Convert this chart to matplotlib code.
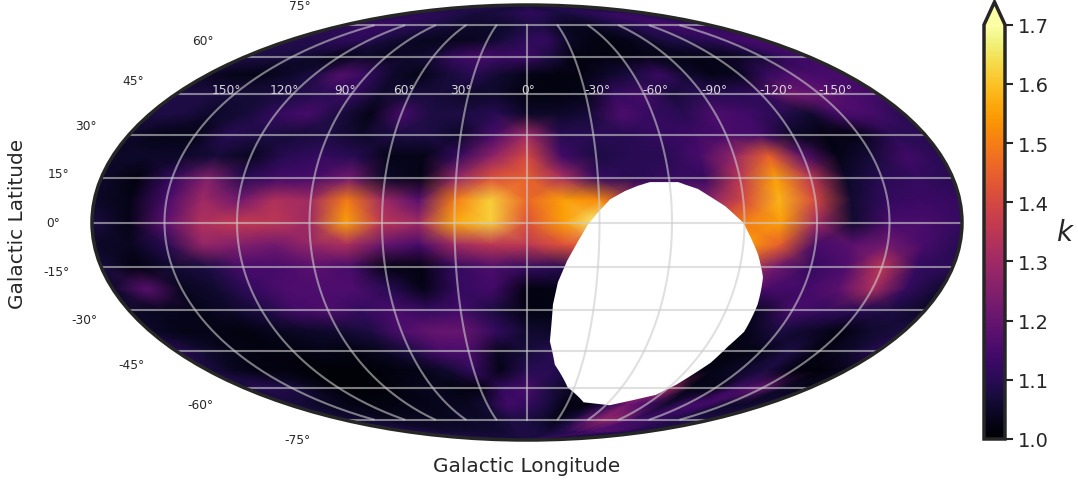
import numpy as np
import matplotlib
matplotlib.use('Agg')
import matplotlib.pyplot as plt
from matplotlib.transforms import Affine2D

plt.rcParams['text.color'] = '.15'
plt.rcParams['axes.labelcolor'] = '.15'
plt.rcParams['xtick.color'] = '.15'
plt.rcParams['ytick.color'] = '.15'

# galactic longitude of the columns, left to right on the map
lon_deg = [180, 165, 150, 135, 120, 105, 90, 75, 60, 45, 30, 15, 0,
           -15, -30, -45, -60, -75, -90, -105, -120, -135, -150, -165, -180]
lat_deg = [90, 82.5, 75, 67.5, 60, 52.5, 45, 37.5, 30, 22.5, 15, 7.5, 0, -7.5, -15,
           -22.5, -30, -37.5, -45, -52.5, -60, -67.5, -75, -82.5, -90]
lon_labels = ['150°', '120°', '90°', '60°', '30°', '0°', '-30°', '-60°', '-90°', '-120°', '-150°']
cbar_ticks = [1.0, 1.1, 1.2, 1.3, 1.4, 1.5, 1.6, 1.7]

# k, one list per latitude
k_p90 = [1.08] * 25
k_p82 = [1.09,1.09,1.10,1.10,1.10,1.09,1.08,1.07,1.07,1.08,1.09,1.10,1.11,1.11,1.10,1.08,1.08,1.09,1.10,1.11,1.12,1.12,1.11,1.10,1.09]
k_p75 = [1.10,1.12,1.13,1.12,1.10,1.10,1.08,1.07,1.06,1.05,1.05,1.06,1.08,1.08,1.05,1.04,1.04,1.06,1.08,1.10,1.12,1.14,1.14,1.12,1.10]
k_p67 = [1.10,1.09,1.10,1.11,1.10,1.07,1.05,1.04,1.04,1.04,1.05,1.08,1.11,1.12,1.05,1.03,1.02,1.03,1.05,1.08,1.09,1.10,1.12,1.14,1.15]
k_p60 = [1.08,1.08,1.07,1.05,1.03,1.05,1.04,1.05,1.07,1.13,1.15,1.13,1.13,1.08,1.02,1.02,1.02,1.03,1.03,1.03,1.03,1.04,1.07,1.12,1.14]
k_p52 = [1.05,1.03,1.03,1.05,1.08,1.17,1.12,1.05,1.03,1.07,1.10,1.06,1.03,1.02,1.02,1.05,1.08,1.13,1.06,1.03,1.04,1.12,1.16,1.15,1.15]
k_p45 = [1.08,1.08,1.07,1.07,1.08,1.10,1.12,1.06,1.07,1.07,1.05,1.05,1.02,1.02,1.03,1.12,1.14,1.07,1.10,1.10,1.12,1.22,1.20,1.16,1.14]
k_p37 = [1.08,1.08,1.05,1.07,1.12,1.15,1.08,1.03,1.15,1.08,1.08,1.10,1.05,1.05,1.07,1.16,1.12,1.10,1.16,1.14,1.10,1.06,1.15,1.15,1.10]
k_p30 = [1.05,1.03,1.03,1.10,1.08,1.07,1.08,1.05,1.08,1.08,1.05,1.15,1.30,1.10,1.10,1.10,1.12,1.13,1.15,1.14,1.05,1.02,1.03,1.10,1.10]
k_p22 = [1.05,1.05,1.05,1.07,1.04,1.10,1.12,1.10,1.03,1.03,1.12,1.27,1.40,1.14,1.08,1.10,1.10,1.15,1.28,1.45,1.18,1.03,1.07,1.14,1.10]
k_p15 = [1.05,1.02,1.12,1.25,1.10,1.14,1.15,1.22,1.05,1.03,1.28,1.42,1.45,1.32,1.12,1.10,1.12,1.12,1.35,1.55,1.35,1.05,1.10,1.12,1.10]
k_p07 = [1.05,1.03,1.15,1.30,1.22,1.33,1.30,1.50,1.30,1.18,1.50,1.62,1.46,1.55,1.52,1.30,1.25,1.25,1.40,1.58,1.40,1.06,1.12,1.13,1.12]
k_00 = [1.08,1.03,1.18,1.33,1.36,1.35,1.30,1.55,1.35,1.30,1.56,1.62,1.42,1.55,1.68,1.50,1.40,1.40,1.50,1.55,1.30,1.06,1.15,1.15,1.12]
k_m07 = [1.05,1.04,1.10,1.28,1.25,1.22,1.28,1.32,1.20,1.15,1.30,1.35,1.35,1.42,1.45,1.30,1.25,1.30,1.55,1.45,1.15,1.18,1.22,1.15,1.10]
k_m15 = [1.07,1.02,1.06,1.08,1.15,1.15,1.18,1.15,1.03,1.02,1.12,1.16,1.12,1.10,1.20,1.20,1.20,1.30,1.40,1.22,1.12,1.16,1.35,1.12,1.10]
k_m22 = [1.06,1.18,1.04,1.06,1.12,1.16,1.16,1.16,1.10,1.03,1.12,1.14,1.02,1.03,1.10,1.10,1.10,1.12,1.18,1.15,1.14,1.18,1.32,1.12,1.06]
k_m30 = [1.05,1.04,1.03,1.05,1.08,1.14,1.16,1.12,1.15,1.12,1.14,1.08,1.02,1.03,1.05,1.05,1.05,1.05,1.05,1.05,1.15,1.12,1.10,1.08,1.05]
k_m37 = [1.05,1.03,1.03,1.02,1.04,1.05,1.06,1.08,1.16,1.20,1.20,1.12,1.06,1.05,1.03,1.03,1.03,1.03,1.03,1.03,1.08,1.05,1.02,1.06,1.08]
k_m45 = [1.10,1.06,1.03,1.02,1.02,1.03,1.02,1.04,1.08,1.15,1.16,1.04,1.07,1.10,1.05,1.03,1.03,1.03,1.02,1.02,1.03,1.08,1.02,1.05,1.10]
k_m52 = [1.08,1.04,1.02,1.02,1.01,1.01,1.01,1.02,1.03,1.06,1.12,1.03,1.10,1.10,1.05,1.03,1.03,1.03,1.02,1.03,1.05,1.08,1.02,1.01,1.04]
k_m60 = [1.08,1.10,1.08,1.04,1.01,1.01,1.01,1.03,1.04,1.02,1.02,1.12,1.15,1.08,1.04,1.05,1.10,1.30,1.30,1.03,1.03,1.14,1.20,1.05,1.03]
k_m67 = [1.08,1.06,1.04,1.03,1.02,1.02,1.03,1.03,1.04,1.04,1.07,1.14,1.12,1.08,1.02,1.02,1.10,1.22,1.15,1.06,1.14,1.14,1.06,1.05,1.08]
k_m75 = [1.06,1.06,1.05,1.04,1.04,1.04,1.04,1.04,1.05,1.05,1.06,1.08,1.08,1.06,1.03,1.08,1.20,1.28,1.26,1.14,1.12,1.10,1.08,1.08,1.08]
k_m82 = [1.08,1.08,1.08,1.07,1.06,1.06,1.06,1.06,1.06,1.06,1.07,1.08,1.08,1.08,1.07,1.08,1.10,1.12,1.14,1.17,1.17,1.16,1.12,1.10,1.08]
k_m90 = [1.08] * 25

# outline of the region with no data
hole_lon = [-51.8, -63.6, -71.6, -82.2, -89.4, -96.6, -100.9, -103, -103.9, -101.2, -99.4, -92.7, -87.4, -75.9,
            -63.1, -41.6, -25.8, -15.2, -11.3, -11.6, -13.3, -16.8, -21.2, -25.2, -29.4, -34.6, -41, -46.6]
hole_lat = [13.6, 13.6, 11.3, 5.5, 0, -10.7, -18.5, -27.9, -37.7, -43.2, -49.5, -58.4, -62.9, -65.3,
            -67.7, -66.3, -59.6, -50.2, -41.3, -27.9, -20.2, -13, -6.3, -0.7, 3.4, 7.8, 10.6, 12.4]

k_map = np.array([k_p90, k_p82, k_p75, k_p67, k_p60, k_p52, k_p45, k_p37, k_p30, k_p22, k_p15, k_p07, k_00,
                  k_m07, k_m15, k_m22, k_m30, k_m37, k_m45, k_m52, k_m60, k_m67, k_m75, k_m82, k_m90])

W, H = 1078, 485
fig = plt.figure(figsize=(W / 100, H / 100), dpi=100)
ax = fig.add_axes([92 / W, (H - 442) / H, 870 / W, 437 / H], projection='mollweide')
ax.set_facecolor(plt.cm.inferno(0.05))

# tick labels sit further out than GeoAxes puts them
xtext_base = (Affine2D().scale(1, 0).translate(0, np.radians(42.5)) + ax.transData
              + Affine2D().translate(0, 4))
ax._yaxis_text1_transform = ax._yaxis_text1_transform + Affine2D().translate(-24, 0)
ax._xaxis_text1_transform = xtext_base
ax.xaxis.reset_ticks()
ax.yaxis.reset_ticks()

x, y = np.meshgrid(-np.radians(lon_deg), np.radians(lat_deg))
mesh = ax.pcolormesh(x, y, k_map, cmap='inferno', vmin=1.0, vmax=1.7, shading='gouraud')
ax.fill(-np.radians(hole_lon), np.radians(hole_lat), color='white', lw=0, zorder=1.2)

ax.set_longitude_grid(30)
ax.set_latitude_grid(15)
ax.set_longitude_grid_ends(75)
ax.set_xticklabels(lon_labels)
ax.tick_params(axis='x', labelsize=8.8, labelcolor='.85')
ax.tick_params(axis='y', labelsize=8.8)
ax.grid(True, color='.8', alpha=0.6, lw=1.5)
ax.spines['geo'].set_color('.15')
ax.spines['geo'].set_linewidth(2.5)

# nudge each longitude label, they don't sit exactly on their meridian
for tick, dx in zip(ax.xaxis.get_major_ticks(), [-1, -3, -2, -3, -6, 1, 10, 8, 7, 9, 8]):
    tick.label1.set_transform(xtext_base + Affine2D().translate(dx, 0))

ax.set_xlabel('Galactic Longitude', fontsize=14.4)
ax.set_ylabel('Galactic Latitude', fontsize=14.4)
ax.xaxis.set_label_coords(0.5, -0.036)
ax.yaxis.set_label_coords(-0.075, 0.5)

# colorbar axes include the extend arrow
cax = fig.add_axes([984 / W, (H - 440) / H, 21 / W, 437 / H])
cb = fig.colorbar(mesh, cax=cax, extend='max', extendfrac=0.055, ticks=cbar_ticks)
cb.outline.set_edgecolor('.15')
cb.outline.set_linewidth(2.5)
cb.ax.tick_params(labelsize=14, length=6, width=1.5, color='.15', pad=3)
cb.set_label('$k$', rotation=0, fontsize=20, labelpad=12, va='center')

fig.savefig('out.png', dpi=100)
